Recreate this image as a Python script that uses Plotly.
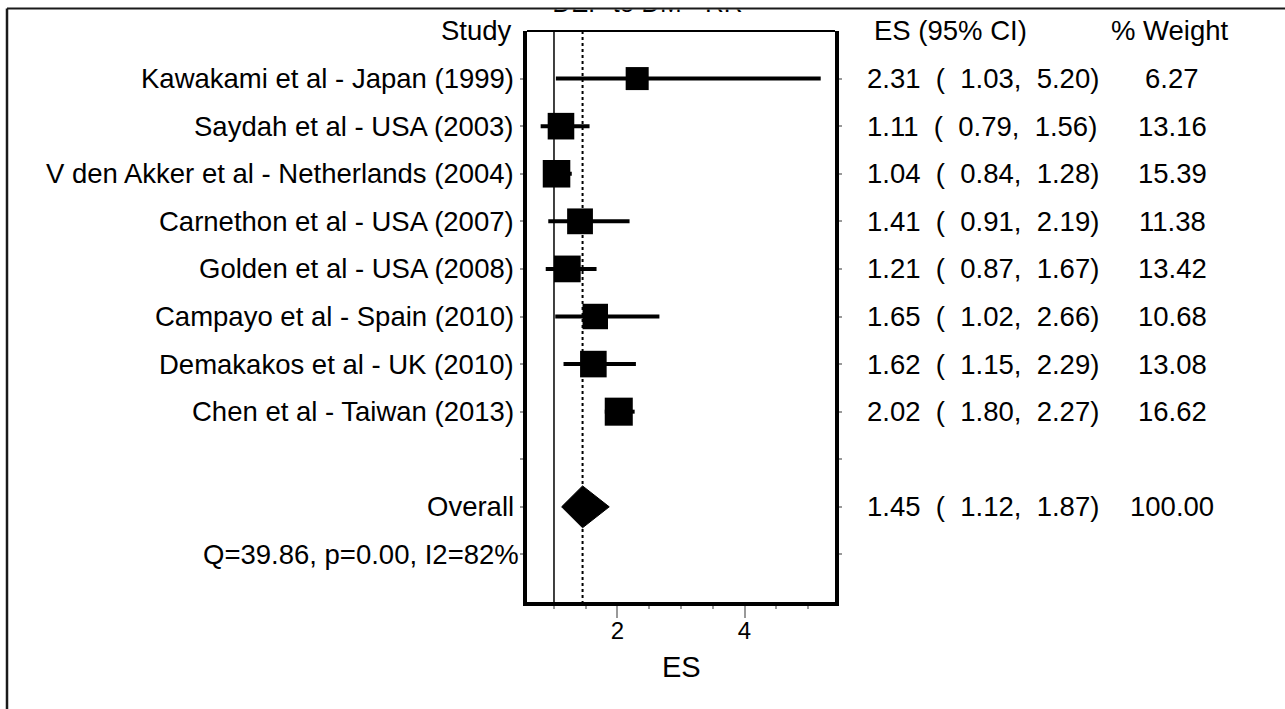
import plotly.graph_objects as go
import numpy as np

# ---- data ----
studies = [
    "Kawakami et al - Japan (1999)",
    "Saydah et al - USA (2003)",
    "V den Akker et al - Netherlands (2004)",
    "Carnethon et al - USA (2007)",
    "Golden et al - USA (2008)",
    "Campayo et al - Spain (2010)",
    "Demakakos et al - UK (2010)",
    "Chen et al - Taiwan (2013)",
]
es = [2.31, 1.11, 1.04, 1.41, 1.21, 1.65, 1.62, 2.02]
ci_lo = [1.03, 0.79, 0.84, 0.91, 0.87, 1.02, 1.15, 1.80]
ci_hi = [5.20, 1.56, 1.28, 2.19, 1.67, 2.66, 2.29, 2.27]
weights = [6.27, 13.16, 15.39, 11.38, 13.42, 10.68, 13.08, 16.62]

overall_es = 1.45
overall_lo = 1.12
overall_hi = 1.87
overall_weight = 100.00

het_q = 39.86
het_p = 0.00
het_i2 = 82

x_ticks = [2, 4]
title_text = "DEP to DM - RR"

# ---- layout geometry (pixels) ----
W, H = 1285, 709
L, R, B = 527, 450, 107
BOX_TOP = 31                 # top edge of the plot box
PW = W - L - R
PAPER_H = H - B              # paper area spans y = 0 .. PAPER_H
FONT = "Liberation Sans, Arial, Helvetica, sans-serif"
TXT = 27.5
NB = "\u00a0"

FRAME_Y = 8.4                # outer frame top line
STRIP = (9.4, 14.8)          # visible band just under the frame line


def px_x(px):
    return (px - L) / PW


def px_y(py):
    return (PAPER_H - py) / PAPER_H


n = len(studies)
rows = list(range(1, n + 1))
overall_row = n + 2
het_row = n + 3

fig = go.Figure()

# confidence interval whiskers
cx, cy = [], []
for lo, hi, r in zip(ci_lo, ci_hi, rows):
    cx += [lo, hi, None]
    cy += [r, r, None]
fig.add_trace(go.Scatter(x=cx, y=cy, mode="lines",
                         line=dict(color="black", width=4),
                         hoverinfo="skip", showlegend=False))

# weight-scaled study boxes
sizes = [15 + 3.2 * np.sqrt(w) for w in weights]
fig.add_trace(go.Scatter(x=es, y=rows, mode="markers",
                         marker=dict(symbol="square", size=sizes, color="black",
                                     opacity=1, line=dict(width=0)),
                         showlegend=False))

# pooled estimate diamond
half_h = 0.44
fig.add_trace(go.Scatter(
    x=[overall_lo, overall_es, overall_hi, overall_es, overall_lo],
    y=[overall_row, overall_row - half_h, overall_row, overall_row + half_h, overall_row],
    mode="lines", fill="toself", fillcolor="black",
    line=dict(color="black", width=1), showlegend=False))

# graph title: only its lower edge shows inside a thin clipped strip
fig.add_trace(go.Scatter(x=[2.47], y=[5.6], mode="text", text=[title_text],
                         textfont=dict(family=FONT, size=26, color="black"),
                         xaxis="x2", yaxis="y2", cliponaxis=True,
                         showlegend=False, hoverinfo="skip"))

shapes = []
# null line and pooled-estimate line
shapes.append(dict(type="line", xref="x", yref="y", x0=1, x1=1, y0=0, y1=12,
                   line=dict(color="black", width=1.5), layer="below"))
shapes.append(dict(type="line", xref="x", yref="y", x0=overall_es, x1=overall_es,
                   y0=0, y1=12, line=dict(color="black", width=2, dash="dot"),
                   layer="below"))
# top edge of plot box (thinner)
shapes.append(dict(type="line", xref="paper", yref="paper", x0=0, x1=1,
                   y0=px_y(BOX_TOP), y1=px_y(BOX_TOP),
                   line=dict(color="black", width=2), layer="above"))
# outer frame (top and left)
shapes.append(dict(type="line", xref="paper", yref="paper",
                   x0=px_x(7), x1=px_x(W + 5), y0=px_y(FRAME_Y), y1=px_y(FRAME_Y),
                   line=dict(color="#1a1a1a", width=2), layer="above"))
shapes.append(dict(type="line", xref="paper", yref="paper",
                   x0=px_x(7), x1=px_x(7), y0=px_y(FRAME_Y), y1=px_y(H + 5),
                   line=dict(color="#1a1a1a", width=2.5), layer="above"))

annotations = []


def label(text, xpx, row, anchor):
    annotations.append(dict(text=text, xref="paper", yref="y", x=px_x(xpx), y=row,
                            xanchor=anchor, yanchor="middle", showarrow=False,
                            font=dict(family=FONT, size=TXT, color="black")))


def ci_text(e, lo, hi):
    return f"{e:.2f}{NB*2}({NB*2}{lo:.2f},{NB*2}{hi:.2f})"


# column headers
label("Study", 514, 0, "right")
label("ES (95% CI)", 872, 0, "left")
label("% Weight", 1170, 0, "center")

for name, e, lo, hi, w, r in zip(studies, es, ci_lo, ci_hi, weights, rows):
    label(name, 516, r, "right")
    label(ci_text(e, lo, hi), 865, r, "left")
    label(f"{w:.2f}", 1172, r, "center")

label("Overall", 516, overall_row, "right")
label(ci_text(overall_es, overall_lo, overall_hi), 865, overall_row, "left")
label(f"{overall_weight:.2f}", 1172, overall_row, "center")
label(f"Q={het_q:.2f}, p={het_p:.2f}, I2={het_i2}%", 521, het_row, "right")

# x-axis title
annotations.append(dict(text="ES", xref="paper", yref="paper", x=0.5, y=px_y(667),
                        xanchor="center", yanchor="middle", showarrow=False,
                        font=dict(family=FONT, size=29, color="black")))

x_range = [0.575, 5.425]

fig.update_layout(
    width=W, height=H,
    margin=dict(l=L, r=R, t=0, b=B, pad=0),
    paper_bgcolor="white", plot_bgcolor="white",
    showlegend=False,
    shapes=shapes, annotations=annotations,
    xaxis=dict(range=x_range, tickvals=x_ticks, ticktext=[str(t) for t in x_ticks],
               anchor="y", showgrid=False, zeroline=False,
               showline=True, linecolor="black", linewidth=4, mirror=False,
               ticks="outside", ticklen=12, tickwidth=2, tickcolor="#999999",
               ticklabelstandoff=-8,
               minor=dict(dtick=0.5, tick0=0, ticks="outside", ticklen=3,
                          tickwidth=1.5, tickcolor="#999999", showgrid=False),
               tickfont=dict(family=FONT, size=24, color="black"),
               fixedrange=True),
    yaxis=dict(domain=[0, px_y(BOX_TOP)], range=[12, 0], anchor="x",
               showgrid=False, zeroline=False,
               showline=True, linecolor="black", linewidth=4, mirror="allticks",
               tickvals=list(range(1, het_row + 1)), showticklabels=False,
               ticks="outside", ticklen=3, tickwidth=1.5, tickcolor="#999999",
               fixedrange=True),
    # thin strip under the frame line that holds the title's visible edge
    xaxis2=dict(range=x_range, anchor="y2", domain=[0, 1], visible=False,
                fixedrange=True),
    yaxis2=dict(domain=[px_y(STRIP[1]), px_y(STRIP[0])], range=[STRIP[1], STRIP[0]],
                anchor="x2", visible=False, fixedrange=True),
)

fig.write_html("out.html", include_plotlyjs=True, config=dict(displayModeBar=False))
